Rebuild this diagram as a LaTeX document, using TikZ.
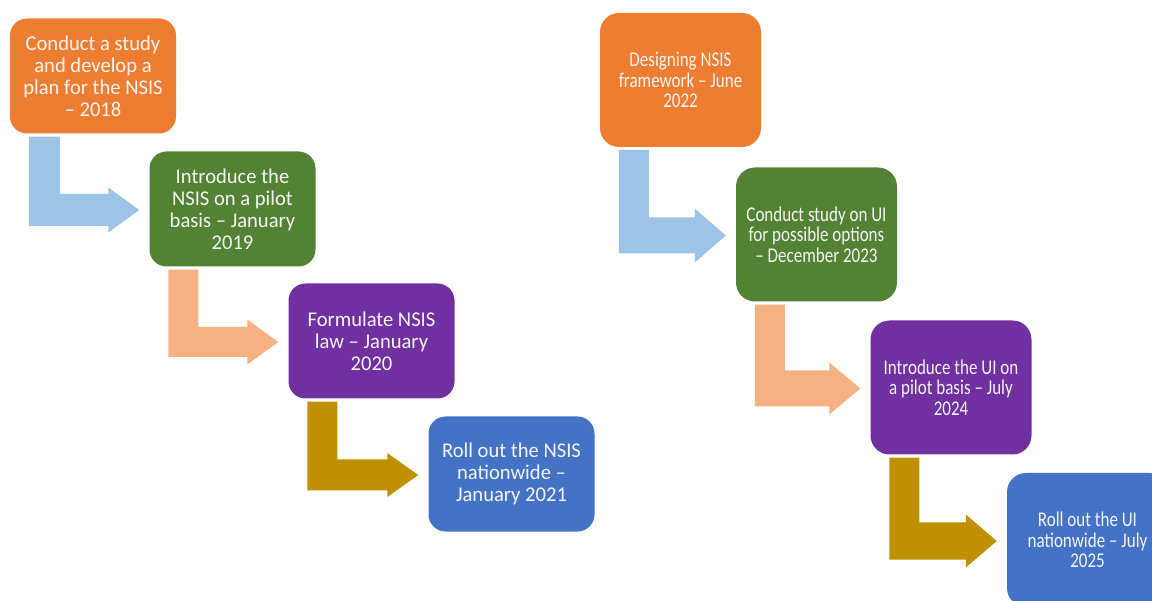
\documentclass[tikz,border=0pt]{standalone}
\usepackage{fontspec}
\setmainfont{Carlito}
\newfontfamily\boxfontL[FakeStretch=0.98]{Carlito}
\newfontfamily\boxfontR[FakeStretch=0.81]{Carlito}
\usetikzlibrary{calc}
\definecolor{cOrange}{HTML}{ED7D31}
\definecolor{cGreen}{HTML}{548235}
\definecolor{cPurple}{HTML}{7030A0}
\definecolor{cBlue}{HTML}{4472C4}
\definecolor{cLightBlue}{HTML}{9DC3E6}
\definecolor{cPeach}{HTML}{F4B183}
\definecolor{cGold}{HTML}{BF9000}
\definecolor{cText}{HTML}{F4F4F4}
\tikzset{
  boxL/.style={rounded corners=17pt, minimum width=166pt, minimum height=115pt,
    align=center, text=cText, font=\boxfontL\fontsize{21}{22}\selectfont, inner sep=0pt},
  boxR/.style={rounded corners=19pt, minimum width=161pt, minimum height=134pt,
    align=center, text=cText, font=\boxfontR\fontsize{21}{20.5}\selectfont, inner sep=0pt},
}
% color, source, target, half bar, half head, bar width
\newcommand{\bentarrow}[6]{%
  \fill[#1] let \p1=(#2.south west), \p2=(#3.west) in
   ({\x1+19pt},{\y1-3pt}) -- ({\x1+19pt+#6},{\y1-3pt}) --
   ({\x1+19pt+#6},{\y2-1pt+#4}) -- ({\x2-41pt},{\y2-1pt+#4}) --
   ({\x2-41pt},{\y2-1pt+#5}) -- ({\x2-10pt},{\y2-1pt}) --
   ({\x2-41pt},{\y2-1pt-#5}) -- ({\x2-41pt},{\y2-1pt-#4}) --
   ({\x1+19pt},{\y2-1pt-#4}) -- cycle;}
\begin{document}
\begin{tikzpicture}[x=1pt,y=-1pt]
\useasboundingbox (0,0) rectangle (1152,601);
\clip (0,0) rectangle (1152,601);
% left chain
\node[boxL, fill=cOrange] (b1) at (93,76) {Conduct a study\\and develop a\\plan for the NSIS\\– 2018};
\node[boxL, fill=cGreen] (b2) at (232.5,209) {Introduce the\\NSIS on a pilot\\basis – January\\2019};
\node[boxL, fill=cPurple] (b3) at (371.5,341) {Formulate NSIS\\law – January\\2020};
\node[boxL, fill=cBlue] (b4) at (511.5,474) {Roll out the NSIS\\nationwide –\\January 2021};
\bentarrow{cLightBlue}{b1}{b2}{16pt}{22.5pt}{31pt}
\bentarrow{cPeach}{b2}{b3}{15pt}{22.5pt}{30pt}
\bentarrow{cGold}{b3}{b4}{15.5pt}{22pt}{30pt}
% right chain
\node[boxR, fill=cOrange] (r1) at (680.5,80) {Designing NSIS\\framework – June\\2022};
\node[boxR, fill=cGreen] (r2) at (816.5,234.5) {Conduct study on UI\\for possible options\\– December 2023};
\node[boxR, fill=cPurple] (r3) at (951,387.5) {Introduce the UI on\\a pilot basis – July\\2024};
\node[boxR, fill=cBlue] (r4) at (1087.5,540) {Roll out the UI\\nationwide – July\\2025};
\bentarrow{cLightBlue}{r1}{r2}{18pt}{27pt}{30pt}
\bentarrow{cPeach}{r2}{r3}{18pt}{26pt}{30pt}
\bentarrow{cGold}{r3}{r4}{18.5pt}{26.5pt}{30pt}
\end{tikzpicture}
\end{document}
